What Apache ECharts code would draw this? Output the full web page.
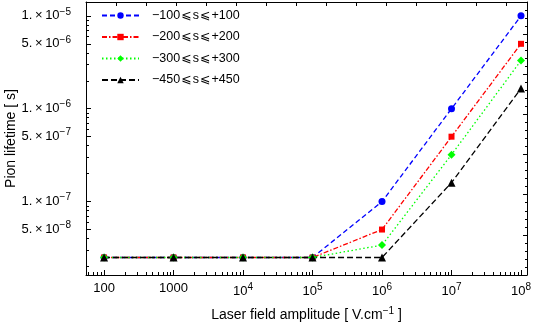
<!DOCTYPE html>
<html><head><meta charset="utf-8">
<script src="https://cdn.jsdelivr.net/npm/echarts@6/dist/echarts.min.js"></script>
<style>html,body{margin:0;padding:0;background:#fff}#c{width:535px;height:326px}</style>
</head><body><div id="c"></div>
<script>
// ---- data ----
const fieldAmplitude = [100, 1000, 1e4, 1e5, 1e6, 1e7, 1e8];
const seriesNames = ['\u2212100\u200A\u2A7D\u200As\u200A\u2A7D\u200A+100', '\u2212200\u200A\u2A7D\u200As\u200A\u2A7D\u200A+200', '\u2212300\u200A\u2A7D\u200As\u200A\u2A7D\u200A+300', '\u2212450\u200A\u2A7D\u200As\u200A\u2A7D\u200A+450'];
const lifetime100 = [2.5e-8, 2.5e-8, 2.5e-8, 2.5e-8, 1.0e-7, 1.0e-6, 1.0e-5];
const lifetime200 = [2.5e-8, 2.5e-8, 2.5e-8, 2.5e-8, 5.0e-8, 5.0e-7, 5.0e-6];
const lifetime300 = [2.5e-8, 2.5e-8, 2.5e-8, 2.5e-8, 3.4e-8, 3.2e-7, 3.3e-6];
const lifetime450 = [2.5e-8, 2.5e-8, 2.5e-8, 2.5e-8, 2.5e-8, 1.6e-7, 1.65e-6];
const xTickValues = [100, 1000, 1e4, 1e5, 1e6, 1e7, 1e8];
const yTickValues = [1e-5, 5e-6, 1e-6, 5e-7, 1e-7, 5e-8];

const FONT = 'Liberation Sans, Arial, DejaVu Sans, sans-serif';
function minors(lo, hi, skip5) {
  const out = [];
  for (let e = lo; e <= hi; e++) for (let m = 2; m <= 9; m++) {
    if (skip5 && m === 5) continue;
    out.push(+(m + 'e' + e));
  }
  return out;
}
const xMinor = minors(1, 7, false);
const yMinor = minors(-8, -6, true);

function expOf(v){ return Math.floor(Math.log10(v) + 1e-9); }
function xFmt(v){
  if (v < 9999) return '{b|' + Math.round(v) + '}';
  return '{b|10}{s|' + expOf(v) + '}';
}
function yFmt(v){
  const e = expOf(v); const m = Math.round(v / Math.pow(10, e));
  return '{b|' + m + '.\u2009\u00D7\u200910}{s|\u2212' + (-e) + '}';
}
const rich = {
  b: {fontFamily: FONT, fontSize: 13, color: '#000'},
  s: {fontFamily: FONT, fontSize: 10, color: '#000', padding: [0, 0, 8, 0]}
};
const richT = {
  b: {fontFamily: FONT, fontSize: 14, color: '#000'},
  s: {fontFamily: FONT, fontSize: 10, color: '#000', padding: [0, 0, 9, 0]}
};

const xMin = 55, xMax = 1.22e8, yMin = 1.62e-8, yMax = 1.41e-5;
const lineAxis = {show: true, lineStyle: {color: '#000', width: 1}};

const chart = echarts.init(document.getElementById('c'));
function mk(name, data, color, type, symbol, size) {
  return {
    name, type: 'line', xAxisIndex: 0, yAxisIndex: 0,
    data: fieldAmplitude.map((x, i) => [x, data[i]]),
    symbol, symbolSize: size, showSymbol: true,
    lineStyle: {color, width: 1.3, type},
    itemStyle: {color},
    animation: false
  };
}
chart.setOption({
  animation: false,
  grid: {left: 86, right: 8, top: 2, bottom: 51, containLabel: false, outerBoundsMode: 'none'},
  legend: {
    orient: 'vertical', left: 96, top: 4, itemWidth: 37, itemHeight: 8, itemGap: 8.5,
    textStyle: {fontFamily: FONT, fontSize: 12.5, color: '#000', padding: [0, 0, 0, 8]},
    data: seriesNames
  },
  xAxis: [
    {type: 'log', logBase: 10, min: xMin, max: xMax, position: 'bottom',
     axisLine: lineAxis, splitLine: {show: false},
     axisTick: {show: true, inside: true, length: 5, customValues: xTickValues, lineStyle: {color: '#000'}},
     axisLabel: {show: true, margin: 7, customValues: xTickValues, formatter: xFmt, rich},
     name: '{b|Laser field amplitude [ V.cm}{s|\u22121}{b| ]}', nameLocation: 'middle', nameGap: 31,
     nameMoveOverlap: false,
     nameTextStyle: {rich: richT}},
    {type: 'log', logBase: 10, min: xMin, max: xMax, position: 'bottom',
     axisLine: {show: false}, splitLine: {show: false},
     axisTick: {show: true, inside: true, length: 3, customValues: xMinor, lineStyle: {color: '#000'}},
     axisLabel: {show: false}},
    {type: 'value', min: 0, max: 14.7, interval: 1, position: 'top',
     axisLine: lineAxis, splitLine: {show: false},
     axisTick: {show: true, inside: true, length: 4, lineStyle: {color: '#000'}},
     axisLabel: {show: false}}
  ],
  yAxis: [
    {type: 'log', logBase: 10, min: yMin, max: yMax, position: 'left',
     axisLine: lineAxis, splitLine: {show: false},
     axisTick: {show: true, inside: true, length: 5, customValues: yTickValues, lineStyle: {color: '#000'}},
     axisLabel: {show: true, margin: 15, customValues: yTickValues, formatter: yFmt, rich},
     name: 'Pion lifetime [ s]', nameLocation: 'middle', nameGap: 68, nameRotate: 90,
     nameMoveOverlap: false,
     nameTextStyle: {fontFamily: FONT, fontSize: 14, color: '#000'}},
    {type: 'log', logBase: 10, min: yMin, max: yMax, position: 'left',
     axisLine: {show: false}, splitLine: {show: false},
     axisTick: {show: true, inside: true, length: 3, customValues: yMinor, lineStyle: {color: '#000'}},
     axisLabel: {show: false}},
    {type: 'value', min: 0, max: 34, interval: 5, position: 'right',
     axisLine: lineAxis, splitLine: {show: false},
     axisTick: {show: true, inside: true, length: 4, lineStyle: {color: '#000'}},
     minorTick: {show: true, splitNumber: 5, length: 2, lineStyle: {color: '#000'}},
     axisLabel: {show: false}}
  ],
  series: [
    mk(seriesNames[0], lifetime100, '#0000ff', [5, 3], 'circle', 7),
    mk(seriesNames[1], lifetime200, '#ff0000', [5, 2, 1.5, 2], 'rect', 6),
    mk(seriesNames[2], lifetime300, '#00ff00', [1.5, 2.5], 'diamond', 8),
    mk(seriesNames[3], lifetime450, '#000000', [6, 3], 'triangle', 8)
  ]
});
</script></body></html>
